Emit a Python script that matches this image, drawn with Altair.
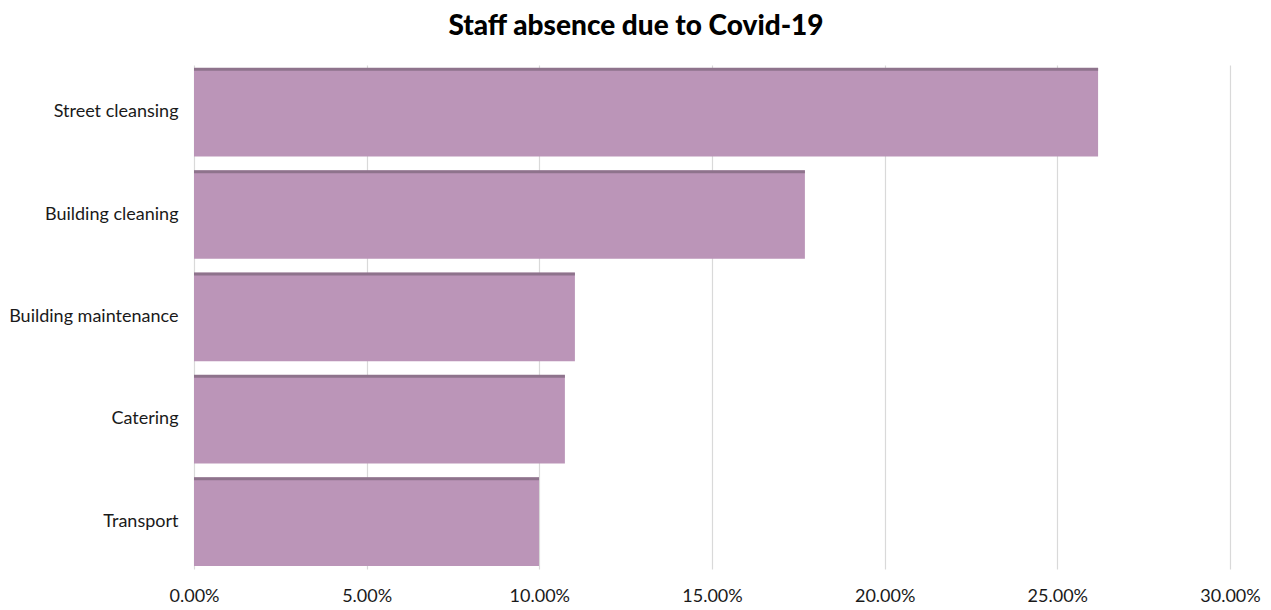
import altair as alt
import pandas as pd

categories = ["Street cleansing", "Building cleaning", "Building maintenance", "Catering", "Transport"]
values = [0.2618, 0.1769, 0.1103, 0.1074, 0.0999]

df = pd.DataFrame({"category": categories, "value": values})

x_enc = alt.X("value:Q", scale=alt.Scale(domain=[0, 0.30], nice=False),
              axis=alt.Axis(format=".2%", values=[0, 0.05, 0.10, 0.15, 0.20, 0.25, 0.30],
                            title=None, domain=False, ticks=False, labelPadding=18,
                            labelFlush=False,
                            labelFontSize=18, labelFont="Lato", labelColor="#1a1a1a",
                            gridColor="#d9d9d9", gridWidth=1.2))
y_enc = alt.Y("category:N", sort=categories,
              scale=alt.Scale(paddingInner=0.136, paddingOuter=0.03),
              axis=alt.Axis(title=None, domain=False, ticks=False, labelPadding=16,
                            labelFontSize=18, labelFont="Lato", labelColor="#1a1a1a",
                            grid=False))

bars = alt.Chart(df).mark_bar(color="#BB95B8").encode(x=x_enc, y=y_enc)
edge = alt.Chart(df).mark_bar(color="#8E738C", height=3, yOffset=-43).encode(
    x="value:Q", y=alt.Y("category:N", sort=categories))

chart = alt.layer(bars, edge).properties(
    width=1036, height=504,
    title=alt.TitleParams("Staff absence due to Covid-19", font="Lato", fontSize=28,
                          fontWeight=900, color="#000000", anchor="middle", offset=24, dx=-76),
    autosize=alt.AutoSizeParams(type="none"),
    padding={"left": 194, "top": 65, "right": 41, "bottom": 41},
).configure_view(stroke=None)

chart.save("out.html", embed_options={"renderer": "svg", "actions": False})
